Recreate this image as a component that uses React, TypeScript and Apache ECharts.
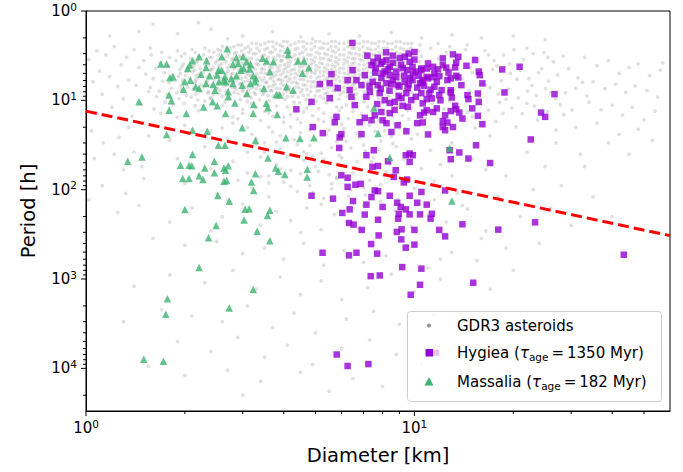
import React, { useEffect, useRef } from "react";
import * as echarts from "echarts";

// ---------- Data (Diameter [km], Period [h]) ----------
const hygiea: number[][] = [
  [6.47,2.28],[7.19,3.16],[7.73,3.33],[7.99,3.7],[8.22,3.54],[8.41,4.21],[8.59,3.16],[9.02,3.36],[9.34,3.25],[9.67,3.7],
  [10.0,2.88],[7.4,4.03],[7.62,4.36],[8.12,4.76],[8.41,5.22],[8.8,4.76],[9.21,4.36],[9.87,4.21],[10.1,4.76],[10.5,4.59],
  [10.9,5.46],[6.48,4.59],[6.26,5.94],[6.66,5.94],[6.9,6.76],[7.06,5.22],[7.46,6.2],[7.73,6.76],[7.93,5.64],[8.22,6.41],
  [8.59,5.94],[8.89,6.76],[9.34,6.2],[9.54,7.3],[9.87,5.94],[10.4,6.41],[10.7,6.88],[5.59,5.09],[5.15,6.58],[5.52,6.41],
  [5.84,7.3],[6.35,7.69],[6.43,9.13],[6.58,11.3],[7.31,8.03],[7.14,9.13],[7.84,8.31],[8.12,9.95],[8.41,10.7],[8.71,10.4],
  [9.13,9.45],[9.45,8.31],[9.78,9.95],[10.1,9.13],[10.5,8.31],[9.54,11.8],[10.4,14.7],[10.9,12.9],[5.52,9.45],[4.86,10.4],
  [4.37,12.6],[7.93,13.5],[7.57,14.7],[7.4,16.7],[8.0,16.7],[8.41,13.9],[5.79,15.3],[5.72,17.6],[6.81,17.6],[7.06,15.7],
  [8.22,18.0],[8.89,19.0],[9.45,22.2],[4.9,19.9],[5.26,23.3],[5.99,23.9],[6.9,23.9],[10.2,18.0],
  [13.1,3.06],[13.6,3.25],[12.2,3.39],[15.3,3.54],[11.0,3.86],[11.4,4.21],[10.5,4.4],[10.9,4.4],[12.2,4.03],[13.4,3.79],
  [13.3,4.28],[14.4,4.1],[18.5,4.51],[20.9,4.21],[11.5,4.98],[12.7,4.88],[13.4,5.31],[11.9,5.36],[11.0,5.68],[10.6,5.94],
  [11.7,6.2],[12.6,5.94],[12.9,5.68],[13.6,5.54],[15.7,4.76],[15.8,5.22],[16.1,6.46],[13.9,6.76],[11.5,7.05],[12.1,7.69],
  [12.9,7.69],[11.1,8.38],[11.9,8.74],[12.9,8.16],[14.5,8.74],[14.6,9.69],[15.6,8.38],[18.8,8.16],[26.7,8.52],[10.6,10.8],
  [11.3,9.52],[11.7,12.3],[13.3,11.5],[15.0,12.3],[15.7,10.4],[10.7,13.7],[11.4,13.5],[12.4,14.7],[12.9,13.2],[13.4,12.6],
  [13.7,13.7],[14.0,16.0],[15.6,14.9],[24.3,13.7],[25.0,15.3],[10.6,17.7],[12.2,17.1],[12.6,17.7],[12.2,19.9],[13.1,19.9],
  [12.4,21.6],[16.1,18.5],[11.0,24.1],
  [7.9,3.9],[8.3,4.5],[8.6,3.8],[9.1,4.0],[9.5,4.6],[9.9,5.0],[8.0,5.0],[8.8,5.5],[9.3,5.3],[9.7,5.6],[10.3,5.3],[7.6,4.9],
  [8.5,6.6],[9.0,7.0],[9.6,6.6],[10.2,7.2],[7.9,7.4],[8.4,7.8],[7.3,6.9],[10.6,6.3],[11.4,5.5],[11.8,4.5],[12.5,4.3],
  [11.2,7.6],[10.9,9.7],[9.2,11.5],[8.7,12.8],[7.7,11.0],[8.95,8.9],[10.0,3.5],[9.6,3.0],[8.2,2.9],[7.5,3.7],[12.0,10.0],[13.0,9.3],
  [22.6,27.4],[17.0,50.3],[23.3,232],[8.51,22.6],[5.92,26.0],[5.9,34.1],[7.52,36.2],[7.14,41.1],[9.41,41.1],[9.67,39.4],[9.89,41.1],
  [9.67,48.9],[12.8,36.2],[12.9,45.6],[13.7,38.3],[14.6,44.8],[15.4,31.8],[7.75,54.3],[7.45,55.5],[8.31,48.1],[8.77,60.6],
  [5.99,69.0],[6.26,73.5],[6.26,93],[6.61,88],[6.86,86],[8.65,72],[9.28,83],[9.5,77],[4.86,117],[5.65,126],[6.5,134],
  [7.4,121],[7.57,102],[7.75,104],[8.41,117],[9.67,117],[10.5,106],[12.4,102],[7.14,147],[8.0,156],[8.86,140],[9.08,156],
  [9.41,166],[10.2,140],[10.9,147],[6.35,166],[6.03,182],[7.06,190],[8.96,186],[9.67,189],[10.4,189],[11.3,186],[11.2,211],
  [8.92,211],[7.75,217],[6.32,236],[6.53,246],[14.0,244],[18.0,280],[6.91,282],[8.84,297],[9.14,278],[10.0,282],[11.9,282],
  [12.4,333],[7.78,325],[9.12,360],[7.38,406],[10.0,412],[9.41,446],[5.25,508],[6.32,543],[6.66,508],[7.7,520],[9.18,735],
  [10.5,765],[7.36,928],[7.84,912],[10.4,1160],[15.1,1100],[9.74,1500],[43.4,535],[5.8,7000],[6.26,9400],[7.24,8950]
];

const massalia: number[][] = [
  [2.69,2.65],[4.11,2.74],[4.13,3.06],[1.69,3.93],[1.76,3.93],[2.11,3.61],[2.21,3.25],[2.33,3.61],[2.59,3.25],[2.87,3.33],
  [3.01,3.25],[2.91,3.86],[3.08,3.7],[3.17,3.96],[3.45,3.39],[3.55,3.63],[3.72,3.7],[2.07,4.03],[2.04,4.4],[2.32,4.28],
  [2.53,4.59],[2.59,4.59],[2.8,3.96],[2.96,4.59],[3.02,4.4],[3.15,4.47],[3.63,4.79],[2.24,5.12],[2.38,5.31],[2.51,5.22],
  [2.65,5.46],[2.77,5.68],[2.87,5.31],[3.23,5.31],[3.29,5.68],[1.8,5.6],[1.84,5.46],[2.0,6.2],[2.08,5.94],[2.16,7.05],
  [2.21,7.36],[2.32,6.46],[2.44,6.63],[2.54,6.2],[2.63,5.94],[2.66,6.2],[2.8,6.46],[2.99,6.76],[3.17,6.46],[3.27,6.2],
  [1.98,7.49],[2.47,7.69],[2.71,8.03],[2.71,9.13],[3.09,8.38],[3.48,7.36],[4.08,7.05],[4.27,7.69],[3.8,8.59],[3.89,8.74],
  [1.79,8.74],[1.82,10.1],[1.45,10.4],[2.28,11.9],[2.43,10.4],[2.51,11.5],[2.84,10.7],[3.24,11.1],[3.54,10.8],[3.58,12.1],
  [1.79,12.9],[2.02,14.0],[2.66,14.0],[3.23,14.0],[3.82,14.4],[2.99,20.3],[2.11,21.6],[2.34,22.2],[1.76,24.1],
  [4.42,3.63],[4.61,3.63],[4.77,4.33],[4.56,4.98],[7.53,12.2],[7.75,23.5],[4.06,26.3],[4.48,26.7],[4.94,26.3],
  [4.72,59],[4.71,72],[8.41,43.6],[12.8,34.3],[13.0,134],[2.53,31.8],[2.65,31.8],[3.28,28.2],[1.34,48],[1.48,43],
  [2.11,40.5],[1.94,53.3],[2.06,53.3],[2.1,54],[2.3,57],[2.46,48],[2.46,64.5],[2.63,57],[2.71,54],[2.66,60.6],
  [2.21,70],[2.27,77],[1.97,75],[2.06,75],[2.63,80.5],[2.68,79],[3.58,44.3],[3.28,66.5],[3.78,57],[3.85,62],
  [4.03,67.5],[3.19,82],[3.24,102],[2.52,116],[2.73,135],[2.0,167],[3.05,166],[3.14,163],[3.63,170],[3.57,194],
  [3.03,218],[2.49,251],[3.32,292],[2.36,345],[3.63,373],[2.21,745],[3.23,1310],[2.73,2110],[1.77,1660],[1.75,2480],
  [1.5,7900],[1.72,8300]
];

const grayCore: number[][] = [
  [1.58,3.1],[1.63,4.4],[1.6,5.7],[1.57,7.2],[1.64,9.1],[1.61,12.5],
  [1.7,2.9],[1.68,3.8],[1.73,4.9],[1.71,6.1],[1.67,7.9],[1.74,10.5],[1.69,14],
  [1.8,3.3],[1.78,4.2],[1.83,5.2],[1.79,6.4],[1.82,7.3],[1.77,8.6],[1.84,11.2],
  [1.9,2.8],[1.88,3.6],[1.93,4.5],[1.91,5.4],[1.87,6.0],[1.94,6.9],[1.89,8.2],[1.92,9.6],
  [2.0,3.0],[1.98,3.9],[2.03,4.7],[2.01,5.3],[1.97,6.3],[2.04,7.1],[2.02,8.8],[1.99,10.8],
  [2.1,2.7],[2.08,3.4],[2.13,4.1],[2.11,4.8],[2.07,5.6],[2.14,6.5],[2.12,7.6],[2.09,9.2],[2.15,11.5],
  [2.2,3.2],[2.18,3.7],[2.23,4.4],[2.21,5.1],[2.17,5.8],[2.24,6.7],[2.22,7.8],[2.19,9.9],
  [2.3,2.6],[2.28,3.1],[2.33,3.5],[2.31,4.2],[2.27,4.9],[2.34,5.5],[2.32,6.2],[2.29,7.0],[2.35,8.3],[2.3,10.2],
  [2.45,2.9],[2.42,3.3],[2.48,3.8],[2.44,4.3],[2.41,4.6],[2.47,5.3],[2.46,5.9],[2.43,6.6],[2.49,7.4],[2.44,8.7],[2.4,9.6],
  [2.6,2.5],[2.57,2.8],[2.63,3.4],[2.59,3.9],[2.55,4.4],[2.62,4.9],[2.61,5.6],[2.58,6.1],[2.64,6.9],[2.56,7.7],[2.6,9.0],[2.65,10.5],
  [2.75,2.6],[2.72,3.0],[2.78,3.5],[2.74,4.0],[2.71,4.7],[2.77,5.1],[2.76,5.7],[2.73,6.4],[2.79,7.2],[2.7,8.1],[2.74,9.4],
  [2.9,2.4],[2.87,2.9],[2.93,3.2],[2.89,3.7],[2.85,4.2],[2.92,4.6],[2.91,5.4],[2.88,5.9],[2.94,6.6],[2.86,7.5],[2.9,8.4],[2.95,9.8],
  [3.05,2.6],[3.02,3.1],[3.08,3.6],[3.04,4.1],[3.0,4.5],[3.07,5.0],[3.06,5.5],[3.03,6.2],[3.09,7.0],[3.01,7.9],[3.05,8.9],[3.1,10.3],
  [3.2,2.3],[3.17,2.7],[3.23,3.0],[3.19,3.4],[3.15,3.9],[3.22,4.3],[3.21,4.8],[3.18,5.3],[3.24,5.8],[3.16,6.4],[3.2,7.3],[3.25,8.2],[3.18,9.3],
  [3.4,2.4],[3.37,2.8],[3.43,3.2],[3.39,3.6],[3.35,4.0],[3.42,4.4],[3.41,4.9],[3.38,5.6],[3.44,6.0],[3.36,6.8],[3.4,7.6],[3.45,8.6],[3.38,9.9],
  [3.6,2.2],[3.57,2.6],[3.63,2.9],[3.59,3.3],[3.55,3.7],[3.62,4.2],[3.61,4.6],[3.58,5.1],[3.64,5.7],[3.56,6.3],[3.6,7.0],[3.65,7.8],[3.58,8.8],[3.62,10.1],
  [3.8,2.3],[3.77,2.7],[3.83,3.1],[3.79,3.5],[3.75,3.9],[3.82,4.3],[3.81,4.8],[3.78,5.3],[3.84,5.9],[3.76,6.6],[3.8,7.3],[3.85,8.3],[3.78,9.4],
  [4.0,2.2],[3.97,2.5],[4.03,2.9],[3.99,3.2],[3.95,3.6],[4.02,4.0],[4.01,4.5],[3.98,4.9],[4.04,5.5],[3.96,6.0],[4.0,6.8],[4.05,7.5],[3.98,8.5],[4.03,9.7],
  [4.2,2.4],[4.17,2.8],[4.23,3.3],[4.19,3.7],[4.15,4.1],[4.22,4.6],[4.21,5.1],[4.18,5.7],[4.24,6.3],[4.16,7.1],[4.2,8.0],[4.25,9.0],
  [4.45,2.2],[4.42,2.6],[4.48,3.0],[4.44,3.4],[4.4,3.8],[4.47,4.2],[4.46,4.7],[4.43,5.2],[4.49,5.8],[4.41,6.5],[4.45,7.2],[4.5,8.1],[4.43,9.2],[4.47,10.6],
  [4.7,2.3],[4.67,2.7],[4.73,3.1],[4.69,3.5],[4.65,4.0],[4.72,4.4],[4.71,4.9],[4.68,5.4],[4.74,6.1],[4.66,6.8],[4.7,7.6],[4.75,8.7],[4.68,9.8],
  [5.0,2.2],[4.97,2.5],[5.03,2.9],[4.99,3.3],[4.95,3.7],[5.02,4.1],[5.01,4.6],[4.98,5.0],[5.04,5.6],[4.96,6.2],[5.0,7.0],[5.05,7.9],[4.98,8.9],[5.03,10.2],
  [5.3,2.3],[5.27,2.6],[5.33,3.0],[5.29,3.4],[5.25,3.9],[5.32,4.3],[5.31,4.8],[5.28,5.3],[5.34,5.9],[5.26,6.6],[5.3,7.4],[5.35,8.4],[5.28,9.5],
  [5.6,2.2],[5.57,2.5],[5.63,2.8],[5.59,3.2],[5.55,3.6],[5.62,4.0],[5.61,4.5],[5.58,5.0],[5.64,5.6],[5.56,6.2],[5.6,7.0],[5.65,7.8],[5.58,8.9],[5.62,10.1],
  [5.9,2.3],[5.87,2.7],[5.93,3.1],[5.89,3.5],[5.85,3.9],[5.92,4.4],[5.91,4.9],[5.88,5.5],[5.94,6.1],[5.86,6.9],[5.9,7.7],[5.95,8.6],[5.88,9.7],
  [6.3,2.2],[6.27,2.5],[6.33,2.9],[6.29,3.3],[6.25,3.7],[6.32,4.2],[6.31,4.6],[6.28,5.1],[6.34,5.7],[6.26,6.4],[6.3,7.2],[6.35,8.1],[6.28,9.1],
  [6.6,2.3],[6.57,2.6],[6.63,3.0],[6.59,3.4],[6.55,3.8],[6.62,4.3],[6.61,4.8],[6.58,5.3],[6.64,5.9],[6.56,6.6],[6.6,7.5],[6.65,8.5],[6.58,9.6],
  [7.0,2.2],[6.97,2.5],[7.03,2.9],[6.99,3.2],[6.95,3.6],[7.02,4.0],[7.01,4.5],[6.98,5.0],[7.04,5.6],[6.96,6.3],[7.0,7.0],[7.05,8.0],[6.98,9.0],[7.03,10.4],
  [7.4,2.3],[7.37,2.7],[7.43,3.1],[7.39,3.5],[7.35,3.9],[7.42,4.4],[7.41,4.9],[7.38,5.4],[7.44,6.1],[7.36,6.8],[7.4,7.7],[7.45,8.7],
  [7.8,2.2],[7.77,2.5],[7.83,2.9],[7.79,3.3],[7.75,3.7],[7.82,4.1],[7.81,4.7],[7.78,5.2],[7.84,5.8],[7.76,6.5],[7.8,7.3],[7.85,8.3],[7.78,9.5],
  [8.3,2.3],[8.27,2.6],[8.33,3.0],[8.29,3.4],[8.25,3.9],[8.32,4.3],[8.31,4.9],[8.28,5.5],[8.34,6.2],[8.26,7.0],[8.3,7.9],[8.35,9.0],
  [8.8,2.2],[8.77,2.5],[8.83,2.9],[8.79,3.3],[8.75,3.8],[8.82,4.2],[8.81,4.7],[8.78,5.3],[8.84,6.0],[8.76,6.7],[8.8,7.6],[8.85,8.6],[8.78,9.8],
  [9.3,2.3],[9.27,2.7],[9.33,3.1],[9.29,3.6],[9.25,4.0],[9.32,4.5],[9.31,5.1],[9.28,5.8],[9.34,6.5],[9.26,7.4],[9.3,8.4],
  [9.8,2.3],[9.77,2.6],[9.83,3.0],[9.79,3.4],[9.75,3.9],[9.82,4.4],[9.81,5.0],[9.78,5.6],[9.84,6.3],[9.76,7.1],[9.8,8.1],[9.85,9.3],
  [10.4,2.4],[10.3,2.8],[10.5,3.2],[10.35,3.7],[10.45,4.2],[10.25,4.8],[10.55,5.4],[10.4,6.1],[10.3,7.0],[10.5,8.0]
];

const grayCoreDense: number[][] = [
  [1.95,3.2],[1.96,4.2],[1.94,5.0],[1.97,5.9],[1.95,7.6],
  [2.15,2.9],[2.16,3.6],[2.14,4.6],[2.17,5.3],[2.15,6.1],[2.13,7.2],[2.16,8.5],
  [2.37,2.8],[2.38,3.3],[2.36,4.0],[2.39,4.5],[2.37,5.2],[2.35,6.0],[2.38,6.9],[2.36,8.0],[2.39,9.3],
  [2.52,2.7],[2.53,3.1],[2.51,3.6],[2.54,4.1],[2.52,4.8],[2.5,5.5],[2.53,6.4],[2.51,7.3],[2.54,8.4],
  [2.68,2.6],[2.69,3.2],[2.67,3.7],[2.7,4.3],[2.68,5.0],[2.66,5.8],[2.69,6.7],[2.67,7.9],
  [2.82,2.5],[2.83,3.0],[2.81,3.4],[2.84,3.9],[2.82,4.4],[2.8,5.0],[2.83,5.6],[2.81,6.3],[2.84,7.1],[2.82,8.2],
  [2.97,2.4],[2.98,2.8],[2.96,3.3],[2.99,3.8],[2.97,4.3],[2.95,4.9],[2.98,5.7],[2.96,6.5],[2.99,7.6],
  [3.12,2.5],[3.13,2.9],[3.11,3.4],[3.14,3.7],[3.12,4.2],[3.1,4.7],[3.13,5.2],[3.11,6.0],[3.14,6.8],[3.12,7.7],[3.1,8.7],
  [3.3,2.3],[3.31,2.6],[3.29,3.0],[3.32,3.5],[3.3,3.9],[3.28,4.5],[3.31,5.1],[3.29,5.7],[3.32,6.5],[3.3,7.4],[3.28,8.5],
  [3.5,2.3],[3.51,2.7],[3.49,3.1],[3.52,3.5],[3.5,4.0],[3.48,4.5],[3.51,5.0],[3.49,5.6],[3.52,6.3],[3.5,7.2],[3.48,8.2],
  [3.7,2.2],[3.71,2.5],[3.69,2.9],[3.72,3.3],[3.7,3.8],[3.68,4.3],[3.71,4.9],[3.69,5.5],[3.72,6.1],[3.7,6.9],[3.68,7.8],[3.71,9.0],
  [3.9,2.4],[3.91,2.8],[3.89,3.2],[3.92,3.6],[3.9,4.1],[3.88,4.6],[3.91,5.2],[3.89,5.8],[3.92,6.5],[3.9,7.4],[3.88,8.4],
  [4.1,2.2],[4.11,2.6],[4.09,3.0],[4.12,3.4],[4.1,3.8],[4.08,4.3],[4.11,4.8],[4.09,5.4],[4.12,6.1],[4.1,6.9],[4.08,7.9],[4.11,9.1],
  [4.33,2.3],[4.34,2.7],[4.32,3.1],[4.35,3.5],[4.33,4.0],[4.31,4.5],[4.34,5.0],[4.32,5.6],[4.35,6.3],[4.33,7.1],[4.31,8.2],
  [4.58,2.2],[4.59,2.5],[4.57,2.9],[4.6,3.3],[4.58,3.7],[4.56,4.2],[4.59,4.7],[4.57,5.3],[4.6,5.9],[4.58,6.7],[4.56,7.6],[4.59,8.8],
  [4.85,2.3],[4.86,2.7],[4.84,3.1],[4.87,3.5],[4.85,3.9],[4.83,4.4],[4.86,4.9],[4.84,5.5],[4.87,6.2],[4.85,7.0],[4.83,8.0],
  [5.15,2.2],[5.16,2.6],[5.14,3.0],[5.17,3.4],[5.15,3.8],[5.13,4.3],[5.16,4.8],[5.14,5.4],[5.17,6.0],[5.15,6.8],[5.13,7.8],[5.16,9.0],
  [5.45,2.3],[5.46,2.7],[5.44,3.1],[5.47,3.5],[5.45,4.0],[5.43,4.5],[5.46,5.0],[5.44,5.6],[5.47,6.3],[5.45,7.2],[5.43,8.2],
  [5.75,2.2],[5.76,2.5],[5.74,2.9],[5.77,3.3],[5.75,3.7],[5.73,4.2],[5.76,4.7],[5.74,5.2],[5.77,5.9],[5.75,6.7],[5.73,7.6],
  [6.1,2.3],[6.11,2.7],[6.09,3.1],[6.12,3.5],[6.1,3.9],[6.08,4.4],[6.11,5.0],[6.09,5.6],[6.12,6.3],[6.1,7.1],[6.08,8.1],
  [6.45,2.2],[6.46,2.6],[6.44,3.0],[6.47,3.4],[6.45,3.9],[6.43,4.4],[6.46,4.9],[6.44,5.5],[6.47,6.2],[6.45,7.0],
  [6.8,2.3],[6.81,2.7],[6.79,3.1],[6.82,3.5],[6.8,4.0],[6.78,4.6],[6.81,5.2],[6.79,5.8],[6.82,6.6],
  [7.2,2.2],[7.21,2.6],[7.19,3.0],[7.22,3.4],[7.2,3.8],[7.18,4.3],[7.21,4.8],[7.19,5.5],[7.22,6.2],[7.2,7.1],
  [7.6,2.3],[7.61,2.7],[7.59,3.1],[7.62,3.5],[7.6,4.0],[7.58,4.5],[7.61,5.1],[7.59,5.7],[7.62,6.5],
  [8.05,2.2],[8.06,2.6],[8.04,3.0],[8.07,3.5],[8.05,4.0],[8.03,4.5],[8.06,5.1],[8.04,5.8],[8.07,6.6],
  [8.55,2.3],[8.56,2.7],[8.54,3.1],[8.57,3.6],[8.55,4.1],[8.53,4.6],[8.56,5.2],[8.54,5.9],
  [9.05,2.2],[9.06,2.6],[9.04,3.0],[9.07,3.5],[9.05,4.0],[9.03,4.6],[9.06,5.3],[9.04,6.0],
  [9.55,2.3],[9.56,2.7],[9.54,3.2],[9.57,3.7],[9.55,4.2],[9.53,4.8],[9.56,5.5]
];

const grayRight: number[][] = [
  [11.2,2.6],[11.8,3.4],[12.5,2.9],[13.4,3.8],[14.3,2.7],[15.2,3.3],[16.4,2.8],[17.5,3.6],[18.7,3.1],[20.1,2.7],[21.5,3.5],
  [23.0,3.0],[24.8,2.9],[26.5,3.7],[28.4,3.2],[11.0,4.6],[12.1,5.3],[13.0,4.4],[14.0,5.8],[15.0,4.9],[16.1,5.5],[17.3,4.5],
  [18.4,6.0],[19.6,5.0],[21.0,4.6],[22.3,5.7],[23.9,4.9],[25.6,6.1],[27.3,5.2],[29.5,4.4],[31.5,5.6],[11.5,7.1],[12.6,8.3],
  [13.6,6.9],[14.7,7.8],[15.8,9.1],[17.0,7.2],[18.0,8.5],[19.3,7.5],[20.7,9.4],[22.1,7.9],[23.5,8.8],[25.1,7.4],[26.9,9.6],
  [28.8,8.2],[31.0,7.3],[33.5,8.9],[11.3,10.8],[12.3,12.5],[13.2,11.4],[14.5,13.6],[15.6,11.0],[16.8,12.9],[18.2,10.6],
  [19.8,12.2],[21.3,14.1],[23.2,11.6],[25.4,13.3],[27.8,11.2],[30.2,12.8],[10.8,16],[12.0,18.5],[13.8,15.5],[15.3,20.5],
  [17.7,17.2],[20.4,19.8],[23.7,16.6],[27.0,21.5],
  [11.8,2.3],[12.8,2.5],[14.5,2.4],[16.8,3.1],[19.5,3.9],[22.0,2.6],[25.5,3.3],[12.2,3.9],[14.8,4.3],[17.8,4.1],[20.5,5.8],
  [24.4,4.4],[11.6,6.2],[13.2,7.6],[16.4,6.7],[19.0,9.7],[22.8,6.8],[26.0,8.2],[12.8,10.2],[15.0,15.2],[18.6,14.0],[22.0,10.8],
  [28.5,14.5],[32.5,6.3]
];

const grayFarRight: number[][] = [
  [33,3.3],[36,4.1],[39,3.6],[42,5.0],[45,4.3],[48,3.9],[52,5.3],[56,4.6],[35,6.2],[38,7.4],[41,6.6],[44,8.1],[47,6.9],
  [51,7.8],[55,9.2],[34,10.5],[37,12.8],[40,11.3],[43,14.6],[46,12.0],[50,16.5],[54,13.2],[36,18],[42,24],[48,21],[39,30],
  [53,28],[45,40],[33,55],[57,3.8]
];

const grayLeft: number[][] = [
  [1.02,3.5],[1.05,6.2],[1.08,2.8],[1.1,4.7],[1.12,8.5],[1.15,3.1],[1.18,5.4],[1.2,12],[1.22,2.5],[1.25,7.0],[1.28,4.0],
  [1.3,9.6],[1.33,3.3],[1.35,5.9],[1.38,15],[1.4,2.7],[1.42,6.8],[1.45,4.3],[1.47,11],[1.5,3.6],[1.52,5.1],[1.55,8.0],
  [1.57,2.6],[1.5,18],[1.04,22],[1.13,30],[1.26,26],[1.4,38],[1.06,45],[1.3,60],[1.18,1.9],[1.45,1.7],[1.08,14],[1.35,20],
  [1.55,25],[1.22,40],[1.48,55],[1.12,90],[1.32,110],[1.5,75],[1.02,130],[1.25,180],[1.45,150]
];

const grayTop: number[][] = [
  [1.9,1.8],[2.4,1.6],[3.0,1.9],[3.7,1.7],[4.5,1.95],[5.5,1.8],[6.8,1.9],[8.5,1.75],[10.5,2.0],[13,1.85],[16,2.0],
  [20,1.9],[25,2.1],[2.7,2.05],[4.9,2.05],[1.6,1.4],[2.2,1.35]
];

const grayFan: number[][] = [
  [2.2,13],[2.6,11.5],[3.0,14],[3.3,12],[3.7,15],[4.1,11.8],[4.6,13.5],[5.1,12.4],[5.6,15.5],[6.2,11.3],[6.9,14.2],
  [7.7,12.7],[8.6,15],[9.5,13],[1.9,15.5],[2.9,16],[4.4,16.2],[5.9,13.1],[3.5,13.3],[4.9,14.8],
  [2.0,19],[2.4,22],[2.8,18],[3.2,24],[3.6,20],[4.0,17.5],[4.5,23],[5.0,19.5],[5.5,21.5],[6.0,18.5],[6.7,23.5],[7.3,19],
  [8.1,22],[9.0,17.8],[10.2,24],[3.9,25],[5.3,17.2],[2.6,20.5],
  [1.8,28],[2.3,33],[2.7,27],[3.1,38],[3.5,30],[3.9,35],[4.3,27.5],[4.8,32],[5.2,39],[5.8,29],[6.4,34],[7.1,37],[7.9,28.5],
  [8.8,33],[9.8,27],[11.2,36],[3.3,31],[4.6,37.5],
  [1.9,45],[2.4,58],[2.8,48],[3.1,65],[3.4,43],[3.8,52],[4.2,61],[4.6,47],[5.0,55],[5.5,68],[6.0,44],[6.6,57],[7.4,49],
  [8.2,63],[9.3,46],[10.5,58],[12.0,52],[2.2,68],[3.6,70],[4.9,42],
  [2.0,85],[2.5,110],[2.9,78],[3.2,95],[3.6,120],[4.0,82],[4.4,105],[4.8,90],[5.3,125],[5.8,75],[6.4,100],[7.1,115],
  [7.9,88],[8.9,128],[10.0,97],[11.5,80],[13.5,110],[3.4,72],[5.6,98],[2.7,130],
  [2.1,160],[2.6,200],[3.0,145],[3.4,250],[3.8,175],[4.2,220],[4.7,160],[5.2,280],[5.7,190],[6.3,240],[7.0,150],[7.8,210],
  [8.7,170],[9.8,260],[11.0,190],[12.5,230],[14.5,165],[16.5,290],[2.4,290],[4.5,300],[6.8,275],[1.8,230]
];

const grayFanDense: number[][] = [
  [3.2,10.8],[3.8,11.6],[4.3,10.5],[4.8,11.2],[5.4,10.6],[6.0,12.0],[6.6,10.9],[7.2,11.8],[8.0,10.7],[8.9,11.6],[9.8,12.2],
  [3.0,12.6],[3.6,13.8],[4.2,14.4],[4.7,12.2],[5.3,13.9],[5.8,11.9],[6.5,13.2],[7.5,14.0],[8.3,13.6],[9.2,14.8],
  [2.8,15.2],[3.4,16.8],[4.0,15.4],[4.5,17.8],[5.1,16.4],[5.7,18.2],[6.3,16.0],[7.0,17.4],[7.8,16.6],[8.7,18.6],[9.6,16.2],
  [3.1,20.2],[3.7,22.6],[4.2,19.8],[4.8,21.4],[5.4,23.8],[6.1,20.8],[6.8,26.0],[7.6,22.2],[8.5,25.4],[9.4,20.6],
  [3.3,26.8],[3.8,29.4],[4.4,31.2],[5.0,27.4],[5.6,33.6],[6.2,28.8],[7.0,31.6],[7.8,35.8],[8.6,30.4],
  [3.5,38.4],[4.1,42.6],[4.7,39.8],[5.3,46.0],[5.9,41.4],[6.7,48.6],[7.5,43.8],[8.4,52.0],
  [3.9,58.4],[4.5,66.0],[5.1,62.2],[5.8,72.6],[6.5,64.8],[7.3,78.0],[8.1,70.4],
  [4.2,92],[4.9,108],[5.6,86],[6.3,118],[7.0,95],[7.9,135],[3.6,84],[5.2,145]
];

const grayLowerRight: number[][] = [
  [13,30],[15,45],[17,25],[19,70],[22,38],[25,55],[28,90],[32,40],[14,150],[18,120],[21,200],[26,160],[30,250],[16,350],
  [24,400],[12,600],[20,800],[35,120],[40,200],[13,70],[16.5,60],[11.5,130],[23,100],[27,30],[31,20]
];

const grayTail: number[][] = [
  [1.6,350],[2.0,420],[2.5,380],[3.0,520],[3.5,450],[4.0,600],[4.6,400],[5.3,700],[6.1,480],[7.0,650],[8.2,550],[9.5,420],
  [11.0,750],[13.0,500],[15.5,620],[19,450],[1.8,900],[2.3,1100],[2.8,800],[3.3,1300],[3.9,950],[4.5,1500],[5.2,1050],
  [6.0,1700],[7.2,1250],[8.5,880],[10.0,1400],[12.0,1000],[1.4,1200],[17,1300],[1.7,2200],[2.1,2600],[2.6,3000],[3.1,2000],
  [3.7,3500],[4.3,2400],[5.0,4000],[6.2,2800],[7.5,2300],[9.0,3200],[11.5,2500],[1.3,3000],[1.9,5000],[2.4,6500],[2.9,4500],
  [3.5,7500],[4.1,5500],[4.9,9000],[6.0,6000],[7.3,4800],[8.8,7000],[2.0,12000],[2.7,10500],[3.4,14000],[4.5,11000],
  [1.55,9500],[6.5,13000],[3.0,20000],[5.5,18000],[8.0,16000],[10.5,9000],[14,5500]
];

const thresholdLine: number[][] = [[1, 13.2], [60, 327]];

const xRange = [1, 60];
const yRange = [1, 30000];
const xMajorTicks = [1, 10];
const xMinorTicks = [2, 3, 4, 5, 6, 7, 8, 9, 20, 30, 40, 50];
const yMajorTicks = [1, 10, 100, 1000, 10000];
const yMinorTicks = [2, 3, 4, 5, 6, 7, 8, 9, 20, 30, 40, 50, 60, 70, 80, 90, 200, 300, 400, 500, 600, 700, 800, 900,
  2000, 3000, 4000, 5000, 6000, 7000, 8000, 9000, 20000];

const legendLabels = ["GDR3 asteroids", "Hygiea", "1350 Myr", "Massalia", "182 Myr"];

const FONT = "DejaVu Sans";

export default function App() {
  const ref = useRef<HTMLDivElement>(null);
  useEffect(() => {
    if (!ref.current) return;
    const chart = echarts.init(ref.current, null, { renderer: "svg" });
    const gray = [...grayCore, ...grayCoreDense, ...grayRight, ...grayFarRight, ...grayLeft, ...grayTop, ...grayFan, ...grayFanDense, ...grayLowerRight, ...grayTail];
    const tickData: number[][] = [
      ...xMajorTicks.map((v) => [v, yRange[1], 0]),
      ...xMinorTicks.map((v) => [v, yRange[1], 1]),
      ...yMajorTicks.map((v) => [xRange[0], v, 2]),
      ...yMinorTicks.map((v) => [xRange[0], v, 3]),
    ];
    const powLabel = (v: number) => {
      const l = Math.log10(v);
      const r = Math.round(l);
      if (Math.abs(l - r) > 1e-6) return "";
      return `10{sup|${r}}`;
    };
    const labelRich = {
      sup: { fontSize: 10.5, fontFamily: FONT, color: "#000", padding: [0, 0, 9, 0] },
    };
    const richLegend = {
      tau: { fontSize: 15, fontFamily: FONT, fontStyle: "italic", fill: "#000" },
      sub: { fontSize: 10.5, fontFamily: FONT, fill: "#000", padding: [7, 0, 0, 0] },
      eq: { fontSize: 15, fontFamily: FONT, fill: "#000", padding: [0, 3, 0, 3] },
    };
    chart.setOption({
      animation: false,
      textStyle: { fontFamily: FONT },
      grid: { left: 86, top: 11, right: 13, bottom: 61, show: true, borderColor: "#000", borderWidth: 1, backgroundColor: "transparent" },
      xAxis: {
        type: "log",
        logBase: 10,
        min: xRange[0],
        max: xRange[1],
        name: "Diameter [km]",
        nameLocation: "middle",
        nameGap: 34,
        nameTextStyle: { fontSize: 19.5, fontFamily: FONT, color: "#000" },
        axisLine: { show: true, lineStyle: { color: "#000", width: 1 } },
        axisTick: { show: false },
        splitLine: { show: false },
        axisLabel: { formatter: powLabel, rich: labelRich, fontSize: 15, fontFamily: FONT, color: "#000", margin: 7 },
      },
      yAxis: {
        type: "log",
        logBase: 10,
        inverse: true,
        min: yRange[0],
        max: yRange[1],
        name: "Period [h]",
        nameLocation: "middle",
        nameGap: 48,
        nameTextStyle: { fontSize: 19.5, fontFamily: FONT, color: "#000" },
        axisLine: { show: true, lineStyle: { color: "#000", width: 1 } },
        axisTick: { show: false },
        splitLine: { show: false },
        axisLabel: { formatter: powLabel, rich: labelRich, fontSize: 15, fontFamily: FONT, color: "#000", margin: 9 },
      },
      series: [
        {
          type: "scatter",
          name: legendLabels[0],
          data: gray,
          symbol: "circle",
          symbolSize: 3.8,
          itemStyle: { color: "rgba(125,125,125,0.3)" },
          silent: true,
          z: 1,
        },
        {
          type: "scatter",
          name: legendLabels[1],
          data: hygiea,
          symbol: "rect",
          symbolSize: 6.5,
          itemStyle: { color: "#9400d3" },
          silent: true,
          z: 2,
        },
        {
          type: "scatter",
          name: legendLabels[3],
          data: massalia,
          symbol: "triangle",
          symbolSize: 7.5,
          itemStyle: { color: "#3cb371" },
          silent: true,
          z: 3,
        },
        {
          type: "line",
          data: thresholdLine,
          symbol: "none",
          lineStyle: { color: "#ff0000", width: 3, type: [11, 5] },
          silent: true,
          z: 4,
        },
        {
          type: "custom",
          data: tickData,
          clip: false,
          silent: true,
          z: 5,
          renderItem: (params: any, api: any) => {
            const kind = api.value(2);
            const pt = api.coord([api.value(0), api.value(1)]);
            const len = kind === 0 || kind === 2 ? 5 : 3;
            const shape = kind < 2
              ? { x1: pt[0], y1: pt[1], x2: pt[0], y2: pt[1] + len }
              : { x1: pt[0] - len, y1: pt[1], x2: pt[0], y2: pt[1] };
            return { type: "line", shape, style: { stroke: "#000", lineWidth: 1 } };
          },
        },
      ],
      graphic: [
        { type: "rect", z: 100, shape: { x: 407.5, y: 311.5, width: 254, height: 90, r: 3 }, style: { fill: "rgba(255,255,255,0.8)", stroke: "#cccccc", lineWidth: 1 } },
        { type: "circle", z: 101, shape: { cx: 429, cy: 325.5, r: 2 }, style: { fill: "rgba(110,110,110,0.75)" } },
        { type: "rect", z: 101, shape: { x: 433, y: 350, width: 6, height: 6 }, style: { fill: "#ecc0f7" } },
        { type: "rect", z: 102, shape: { x: 425.5, y: 349, width: 7.5, height: 7.5 }, style: { fill: "#9400d3" } },
        { type: "polygon", z: 101, shape: { points: [[429, 377], [433.5, 385.5], [424.5, 385.5]] }, style: { fill: "#3cb371" } },
        { type: "text", z: 101, x: 457, y: 325.5, style: { text: legendLabels[0], fontSize: 15, fontFamily: FONT, fill: "#000", verticalAlign: "middle" } },
        { type: "text", z: 101, x: 457, y: 353, style: { text: `${legendLabels[1]} ({tau|τ}{sub|age}{eq|=}${legendLabels[2]})`, fontSize: 15, fontFamily: FONT, fill: "#000", verticalAlign: "middle", rich: richLegend } },
        { type: "text", z: 101, x: 457, y: 382, style: { text: `${legendLabels[3]} ({tau|τ}{sub|age}{eq|=}${legendLabels[4]})`, fontSize: 15, fontFamily: FONT, fill: "#000", verticalAlign: "middle", rich: richLegend } },
      ],
    });
    return () => chart.dispose();
  }, []);
  return <div ref={ref} style={{ position: "fixed", left: 0, top: 0, width: 683, height: 472, background: "#fff" }} />;
}
